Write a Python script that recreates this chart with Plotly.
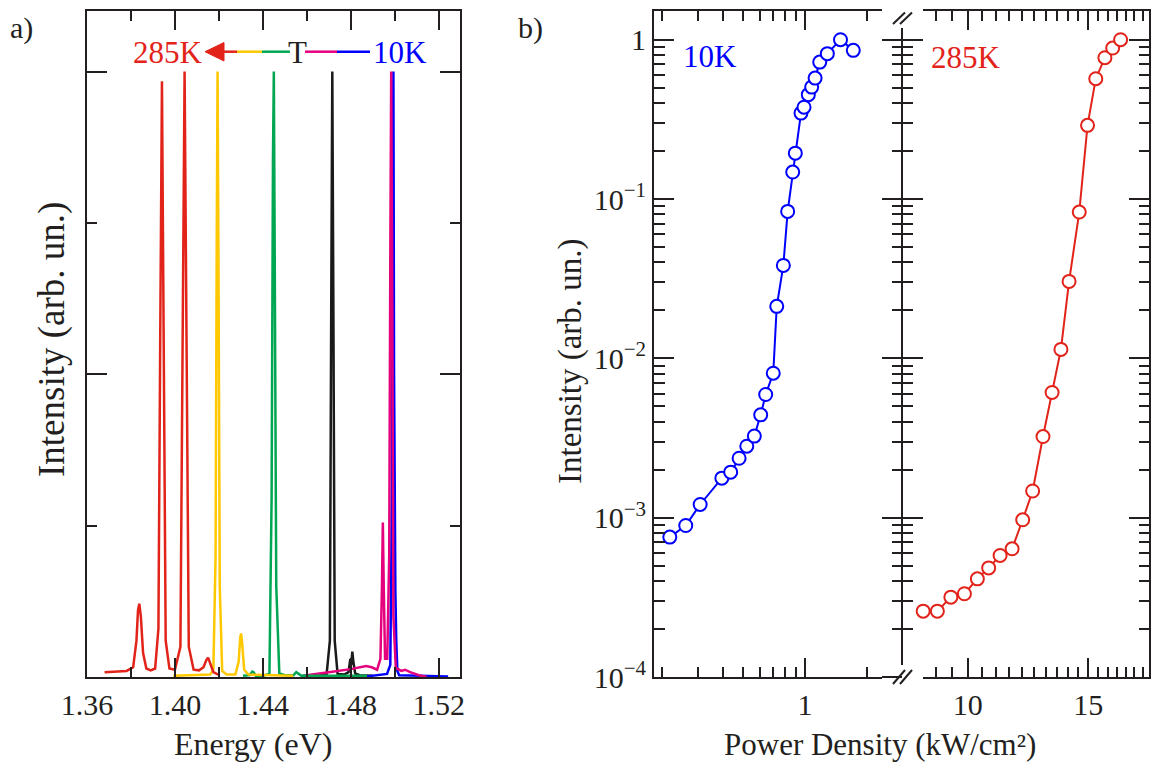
import plotly.graph_objects as go

W, H = 1151, 765

def X(p):
    return p / W

def Y(p):
    return 1 - p / H

# ---------------- data: panel a (spectra) ----------------
red_E = [1.3680, 1.3720, 1.3780, 1.3810, 1.3825, 1.3832, 1.3838, 1.3845, 1.3855, 1.3870, 1.3890, 1.3910,
         1.3925, 1.3933, 1.3941, 1.3949, 1.3958, 1.3975, 1.4000, 1.4025, 1.4035, 1.4044, 1.4053, 1.4063,
         1.4085, 1.4110, 1.4130, 1.4143, 1.4151, 1.4160, 1.4175, 1.4197]
red_I = [0.008, 0.009, 0.010, 0.016, 0.060, 0.110, 0.121, 0.100, 0.040, 0.014, 0.011, 0.014,
         0.080, 0.550, 0.984, 0.550, 0.060, 0.014, 0.012, 0.050, 0.550, 1.000, 0.550, 0.050,
         0.012, 0.011, 0.016, 0.028, 0.032, 0.022, 0.008, 0.004]

yel_E = [1.3993, 1.4100, 1.4160, 1.4175, 1.4185, 1.4190, 1.4194, 1.4198, 1.4204, 1.4215, 1.4235, 1.4275,
         1.4290, 1.4297, 1.4301, 1.4306, 1.4315, 1.4335, 1.4400, 1.4538]
yel_I = [0.002, 0.003, 0.004, 0.012, 0.200, 0.700, 1.000, 0.700, 0.150, 0.010, 0.004, 0.004,
         0.025, 0.065, 0.072, 0.055, 0.012, 0.004, 0.003, 0.002]

grn_E = [1.4310, 1.4340, 1.4352, 1.4358, 1.4368, 1.4400, 1.4430, 1.4440, 1.4446, 1.4450, 1.4454, 1.4461,
         1.4475, 1.4500, 1.4540, 1.4552, 1.4560, 1.4575, 1.4700, 1.4874]
grn_I = [0.002, 0.003, 0.009, 0.008, 0.002, 0.002, 0.005, 0.300, 0.850, 1.000, 0.700, 0.150,
         0.006, 0.003, 0.003, 0.008, 0.006, 0.002, 0.002, 0.002]

blk_E = [1.4580, 1.4650, 1.4690, 1.4705, 1.4711, 1.4716, 1.4721, 1.4727, 1.4740, 1.4770, 1.4790, 1.4798,
         1.4802, 1.4807, 1.4812, 1.4820, 1.4840, 1.4900]
blk_I = [0.002, 0.002, 0.004, 0.060, 0.600, 1.000, 0.600, 0.060, 0.005, 0.004, 0.008, 0.030,
         0.020, 0.042, 0.025, 0.006, 0.003, 0.002]

mag_E = [1.4577, 1.4600, 1.4700, 1.4800, 1.4870, 1.4895, 1.4920, 1.4935, 1.4942, 1.4946, 1.4950, 1.4956,
         1.4966, 1.4975, 1.4980, 1.4984, 1.4988, 1.4994, 1.5005, 1.5030, 1.5047, 1.5070, 1.5110, 1.5145]
mag_I = [0.000, 0.003, 0.008, 0.013, 0.018, 0.016, 0.012, 0.030, 0.150, 0.255, 0.150, 0.030,
         0.030, 0.200, 0.700, 1.000, 0.700, 0.100, 0.015, 0.010, 0.012, 0.008, 0.003, 0.000]

blu_E = [1.4874, 1.4930, 1.4965, 1.4980, 1.4987, 1.4991, 1.4994, 1.4997, 1.5000, 1.5003, 1.5007, 1.5012,
         1.5020, 1.5100, 1.5243]
blu_I = [0.001, 0.003, 0.005, 0.020, 0.300, 0.800, 1.000, 0.500, 0.150, 0.139, 0.060, 0.010,
         0.003, 0.002, 0.001]

# ---------------- data: panel b (power dependence) ----------------
p10 = [0.219, 0.262, 0.308, 0.393, 0.434, 0.477, 0.520, 0.566, 0.608, 0.643, 0.700, 0.728, 0.784,
       0.823, 0.871, 0.897, 0.956, 0.989, 1.038, 1.078, 1.12, 1.18, 1.285, 1.49, 1.72]
i10 = [7.55e-4, 8.93e-4, 1.21e-3, 1.77e-3, 1.93e-3, 2.36e-3, 2.81e-3, 3.25e-3, 4.42e-3, 5.93e-3,
       8.07e-3, 0.0212, 0.0383, 0.0836, 0.1476, 0.194, 0.346, 0.377, 0.452, 0.504, 0.574, 0.723,
       0.817, 1.0, 0.857]

p285 = [8.61, 9.03, 9.45, 9.89, 10.33, 10.73, 11.15, 11.61, 12.03, 12.44, 12.88, 13.28, 13.68,
        14.06, 14.55, 14.96, 15.38, 15.86, 16.28, 16.72]
i285 = [2.59e-4, 2.59e-4, 3.17e-4, 3.33e-4, 4.13e-4, 4.84e-4, 5.79e-4, 6.38e-4, 9.70e-4, 1.47e-3,
        3.23e-3, 6.11e-3, 0.01138, 0.0304, 0.0828, 0.290, 0.569, 0.771, 0.886, 1.0]

# tick labels
a_xticks = [1.36, 1.40, 1.44, 1.48, 1.52]
a_xtext = ["1.36", "1.40", "1.44", "1.48", "1.52"]
a_xminor = [1.38, 1.42, 1.46, 1.50]
b_yticks = [1e-4, 1e-3, 1e-2, 1e-1, 1]
b_ytext = ["10<sup>−4</sup>", "10<sup>−3</sup>", "10<sup>−2</sup>", "10<sup>−1</sup>", "1"]
b_yminor = [k * 10.0 ** d for d in (-4, -3, -2, -1) for k in range(2, 10)]
bl_xticks = [1]
bl_xtext = ["1"]
bl_xminor = [0.2, 0.3, 0.4, 0.5, 0.6, 0.7, 0.8, 0.9, 2]
br_xticks = [10, 15]
br_xtext = ["10", "15"]
br_xminor = [9, 9.5, 10.5, 11, 11.5, 12, 12.5, 13, 13.5, 14, 14.5, 15.5, 16, 16.5, 17, 17.5, 18]

RED = "#E2231A"
YEL = "#FFC800"
GRN = "#00A651"
MAG = "#E5007E"
BLU = "#0000FF"
BLK = "#1A1A1A"
AX = "#231F20"
FONT = "Liberation Serif"

fig = go.Figure()

for E, I, c in [(blk_E, blk_I, BLK), (blu_E, blu_I, BLU), (mag_E, mag_I, MAG),
                (grn_E, grn_I, GRN), (yel_E, yel_I, YEL), (red_E, red_I, RED)]:
    fig.add_trace(go.Scatter(x=E, y=I, mode="lines", line=dict(color=c, width=2.5),
                             xaxis="x", yaxis="y", showlegend=False, hoverinfo="skip"))

fig.add_trace(go.Scatter(x=p10, y=i10, mode="lines+markers", xaxis="x2", yaxis="y2",
                         line=dict(color=BLU, width=2),
                         marker=dict(symbol="circle", size=13, color="white",
                                     line=dict(color=BLU, width=2)),
                         showlegend=False, cliponaxis=False))
fig.add_trace(go.Scatter(x=p285, y=i285, mode="lines+markers", xaxis="x3", yaxis="y3",
                         line=dict(color=RED, width=2),
                         marker=dict(symbol="circle", size=13, color="white",
                                     line=dict(color=RED, width=2)),
                         showlegend=False, cliponaxis=False))
# empty traces so that the overlay axes at the break get drawn
for ya in ("y4", "y5"):
    fig.add_trace(go.Scatter(x=[], y=[], xaxis="x3", yaxis=ya, showlegend=False, hoverinfo="skip"))

tickfont = dict(family=FONT, size=30, color=AX)
ydom = [Y(677), Y(11)]
common = dict(linecolor=AX, linewidth=2, tickcolor=AX, tickwidth=2, showgrid=False,
              zeroline=False, tickfont=tickfont, automargin=False)

b_yrange = [-4, 0.18]

fig.update_layout(
    width=W, height=H, margin=dict(l=0, r=0, t=0, b=0, pad=0, autoexpand=False),
    paper_bgcolor="white", plot_bgcolor="rgba(0,0,0,0)",
    xaxis=dict(domain=[X(87), X(460)], range=[1.36, 1.5297], anchor="y", showline=True,
               mirror="ticks", ticks="inside", ticklen=19, tickmode="array",
               tickvals=a_xticks, ticktext=a_xtext,
               minor=dict(tickvals=a_xminor, ticks="inside", ticklen=10, tickwidth=2, tickcolor=AX),
               **common),
    yaxis=dict(domain=ydom, range=[0, 1.1], anchor="x", showline=True, mirror="ticks",
               ticks="inside", ticklen=20, tickmode="array", tickvals=[0, 0.5, 1.0],
               showticklabels=False,
               minor=dict(tickvals=[0.25, 0.75], ticks="inside", ticklen=10, tickwidth=2, tickcolor=AX),
               **common),
    xaxis2=dict(domain=[X(654), X(882)], type="log", range=[-0.7366, 0.3756], anchor="y2",
                showline=True, mirror="ticks", ticks="inside", ticklen=19, tickmode="array",
                tickvals=bl_xticks, ticktext=bl_xtext,
                minor=dict(tickvals=bl_xminor, ticks="inside", ticklen=10, tickwidth=2, tickcolor=AX),
                **common),
    yaxis2=dict(domain=ydom, type="log", range=b_yrange, anchor="x2", showline=True,
                ticks="inside", ticklen=20, tickmode="array", tickvals=b_yticks, ticktext=b_ytext,
                minor=dict(tickvals=b_yminor, ticks="inside", ticklen=11, tickwidth=2, tickcolor=AX),
                **common),
    xaxis3=dict(domain=[X(923), X(1149)], type="log", range=[0.93474, 1.26467], anchor="y3",
                showline=True, mirror="ticks", ticks="inside", ticklen=19, tickmode="array",
                tickvals=br_xticks, ticktext=br_xtext,
                minor=dict(tickvals=br_xminor, ticks="inside", ticklen=10, tickwidth=2, tickcolor=AX),
                **common),
    yaxis3=dict(domain=ydom, type="log", range=b_yrange, anchor="x3", side="right", showline=True,
                ticks="inside", ticklen=20, tickmode="array", tickvals=b_yticks,
                showticklabels=False,
                minor=dict(tickvals=b_yminor, ticks="inside", ticklen=10, tickwidth=2, tickcolor=AX),
                **common),
    yaxis4=dict(domain=ydom, type="log", range=b_yrange, overlaying="y3", anchor="free",
                position=X(902), side="left", showline=False, ticks="outside", ticklen=20,
                tickmode="array", tickvals=b_yticks, showticklabels=False,
                minor=dict(tickvals=b_yminor, ticks="outside", ticklen=10, tickwidth=2, tickcolor=AX),
                **common),
    yaxis5=dict(domain=ydom, type="log", range=b_yrange, overlaying="y3", anchor="free",
                position=X(902), side="left", showline=False, ticks="inside", ticklen=20,
                tickmode="array", tickvals=b_yticks, showticklabels=False,
                minor=dict(tickvals=b_yminor, ticks="inside", ticklen=10, tickwidth=2, tickcolor=AX),
                **common),
)

shapes = []
def seg(x0, y0, x1, y1, color=AX, width=2):
    shapes.append(dict(type="line", xref="paper", yref="paper", x0=X(x0), y0=Y(y0),
                       x1=X(x1), y1=Y(y1), line=dict(color=color, width=width)))

# break axis line and marks
seg(902, 28, 902, 665)
seg(893, 24, 905, 12.5)
seg(900, 24, 912, 12.5)
seg(893, 684, 905, 670)
seg(900, 684, 912, 670)

# temperature arrow legend in panel a
ly = 51.7
seg(223, ly, 237, ly, RED, 2.5)
seg(237, ly, 262, ly, YEL, 2.5)
seg(262, ly, 290, ly, GRN, 2.5)
seg(305, ly, 337, ly, MAG, 2.5)
seg(337, ly, 370, ly, BLU, 2.5)
shapes.append(dict(type="path", xref="paper", yref="paper",
                   path=f"M {X(205)},{Y(ly)} L {X(224)},{Y(42.5)} L {X(224)},{Y(61)} Z",
                   fillcolor=RED, line=dict(color=RED, width=1)))
fig.update_layout(shapes=shapes)

def ann(text, x, y, size=31, color=AX, angle=0, xanchor="center"):
    fig.add_annotation(text=text, x=X(x), y=Y(y), xref="paper", yref="paper", showarrow=False,
                       font=dict(family=FONT, size=size, color=color), textangle=angle,
                       xanchor=xanchor, yanchor="middle")

ann("a)", 21, 28, 30)
ann("b)", 530, 28, 30)
ann("285K", 168, 53, 31, RED)
ann("T", 298, 53, 31, AX)
ann("10K", 400, 53, 31, BLU)
ann("10K", 710, 57, 31, BLU)
ann("285K", 966, 58, 31, RED)
ann("Intensity (arb. un.)", 52, 340, 37, AX, -90)
ann("Intensity (arb. un.)", 570, 361, 33, AX, -90)
ann("Energy (eV)", 253, 744, 32)
ann("Power Density (kW/cm²)", 880, 744, 31)

fig.write_html("out.html")
